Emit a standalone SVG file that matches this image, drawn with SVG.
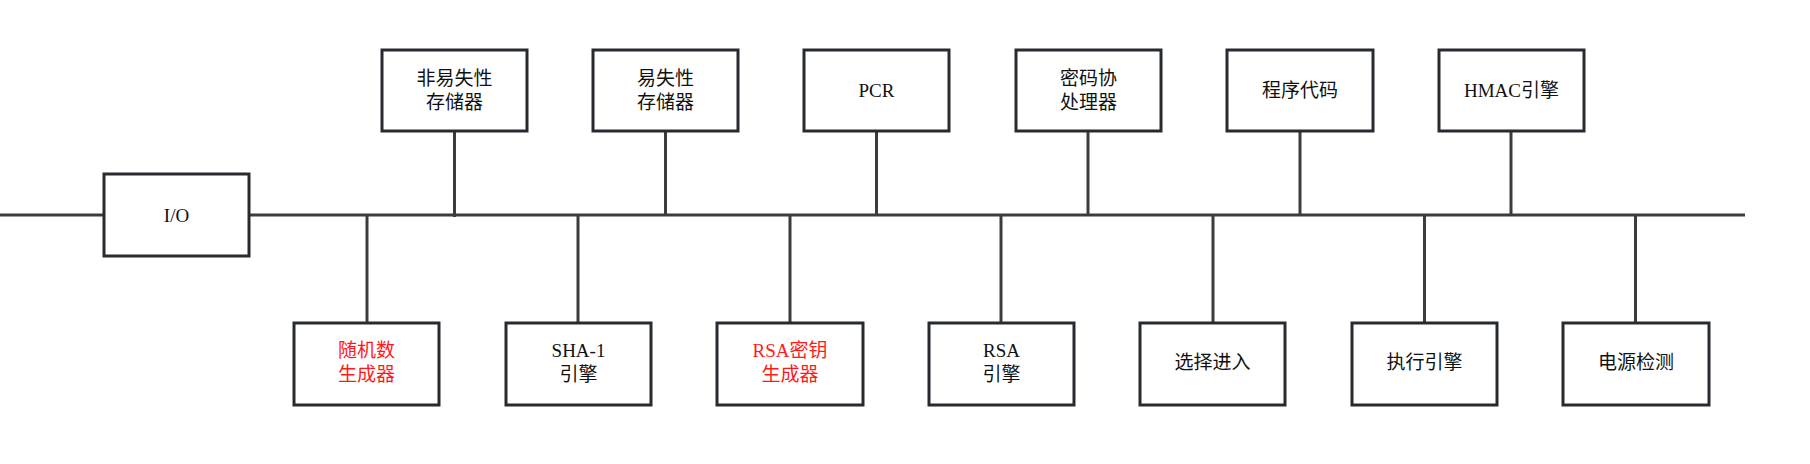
<svg xmlns="http://www.w3.org/2000/svg" width="1810" height="464" viewBox="0 0 1810 464">
<style>
.box{fill:#fff;stroke:#262b30;stroke-width:3}
.ln{stroke:#3c3c3c;stroke-width:3;fill:none}
text{font-family:"Liberation Serif","Noto Sans CJK SC",serif;font-size:19px;fill:#111;text-anchor:middle;dominant-baseline:central}
text.red{fill:#ff1a1a}
</style>
<rect width="1810" height="464" fill="#fff"/>
<g id="connectors">
<line class="ln" x1="0" y1="215" x2="104" y2="215"/>
<line class="ln" x1="249" y1="215" x2="1745" y2="215"/>
<line class="ln" x1="454.5" y1="131" x2="454.5" y2="217"/>
<line class="ln" x1="665.5" y1="131" x2="665.5" y2="215"/>
<line class="ln" x1="876.5" y1="131" x2="876.5" y2="215"/>
<line class="ln" x1="1088" y1="131" x2="1088" y2="215"/>
<line class="ln" x1="1300" y1="131" x2="1300" y2="215"/>
<line class="ln" x1="1511" y1="131" x2="1511" y2="215"/>
<line class="ln" x1="367" y1="215" x2="367" y2="323"/>
<line class="ln" x1="578" y1="215" x2="578" y2="323"/>
<line class="ln" x1="790" y1="215" x2="790" y2="323"/>
<line class="ln" x1="1001" y1="215" x2="1001" y2="323"/>
<line class="ln" x1="1213" y1="215" x2="1213" y2="323"/>
<line class="ln" x1="1424.5" y1="215" x2="1424.5" y2="323"/>
<line class="ln" x1="1635.5" y1="215" x2="1635.5" y2="323"/>
</g>
<g id="io"><rect class="box" x="104" y="174" width="145" height="82"/><text x="176.5" y="215">I/O</text></g>
<g id="nvm"><rect class="box" x="382" y="50" width="145" height="81"/><text x="454.5" y="78">非易失性</text><text x="454.5" y="102">存储器</text></g>
<g id="vm"><rect class="box" x="593" y="50" width="145" height="81"/><text x="665.5" y="78">易失性</text><text x="665.5" y="102">存储器</text></g>
<g id="pcr"><rect class="box" x="804" y="50" width="145" height="81"/><text x="876.5" y="90">PCR</text></g>
<g id="coproc"><rect class="box" x="1016" y="50" width="145" height="81"/><text x="1088.5" y="78">密码协</text><text x="1088.5" y="102">处理器</text></g>
<g id="code"><rect class="box" x="1227" y="50" width="146" height="81"/><text x="1300" y="90">程序代码</text></g>
<g id="hmac"><rect class="box" x="1439" y="50" width="145" height="81"/><text x="1511.5" y="90">HMAC引擎</text></g>
<g id="rng"><rect class="box" x="294" y="323" width="145" height="82"/><text class="red" x="366.5" y="350">随机数</text><text class="red" x="366.5" y="374">生成器</text></g>
<g id="sha1"><rect class="box" x="506" y="323" width="145" height="82"/><text x="578.5" y="350">SHA-1</text><text x="578.5" y="374">引擎</text></g>
<g id="rsakeygen"><rect class="box" x="717" y="323" width="146" height="82"/><text class="red" x="790" y="350">RSA密钥</text><text class="red" x="790" y="374">生成器</text></g>
<g id="rsa"><rect class="box" x="929" y="323" width="145" height="82"/><text x="1001.5" y="350">RSA</text><text x="1001.5" y="374">引擎</text></g>
<g id="optin"><rect class="box" x="1140" y="323" width="145" height="82"/><text x="1212.5" y="362">选择进入</text></g>
<g id="exec"><rect class="box" x="1352" y="323" width="145" height="82"/><text x="1424.5" y="362">执行引擎</text></g>
<g id="power"><rect class="box" x="1563" y="323" width="146" height="82"/><text x="1636" y="362">电源检测</text></g>
</svg>
